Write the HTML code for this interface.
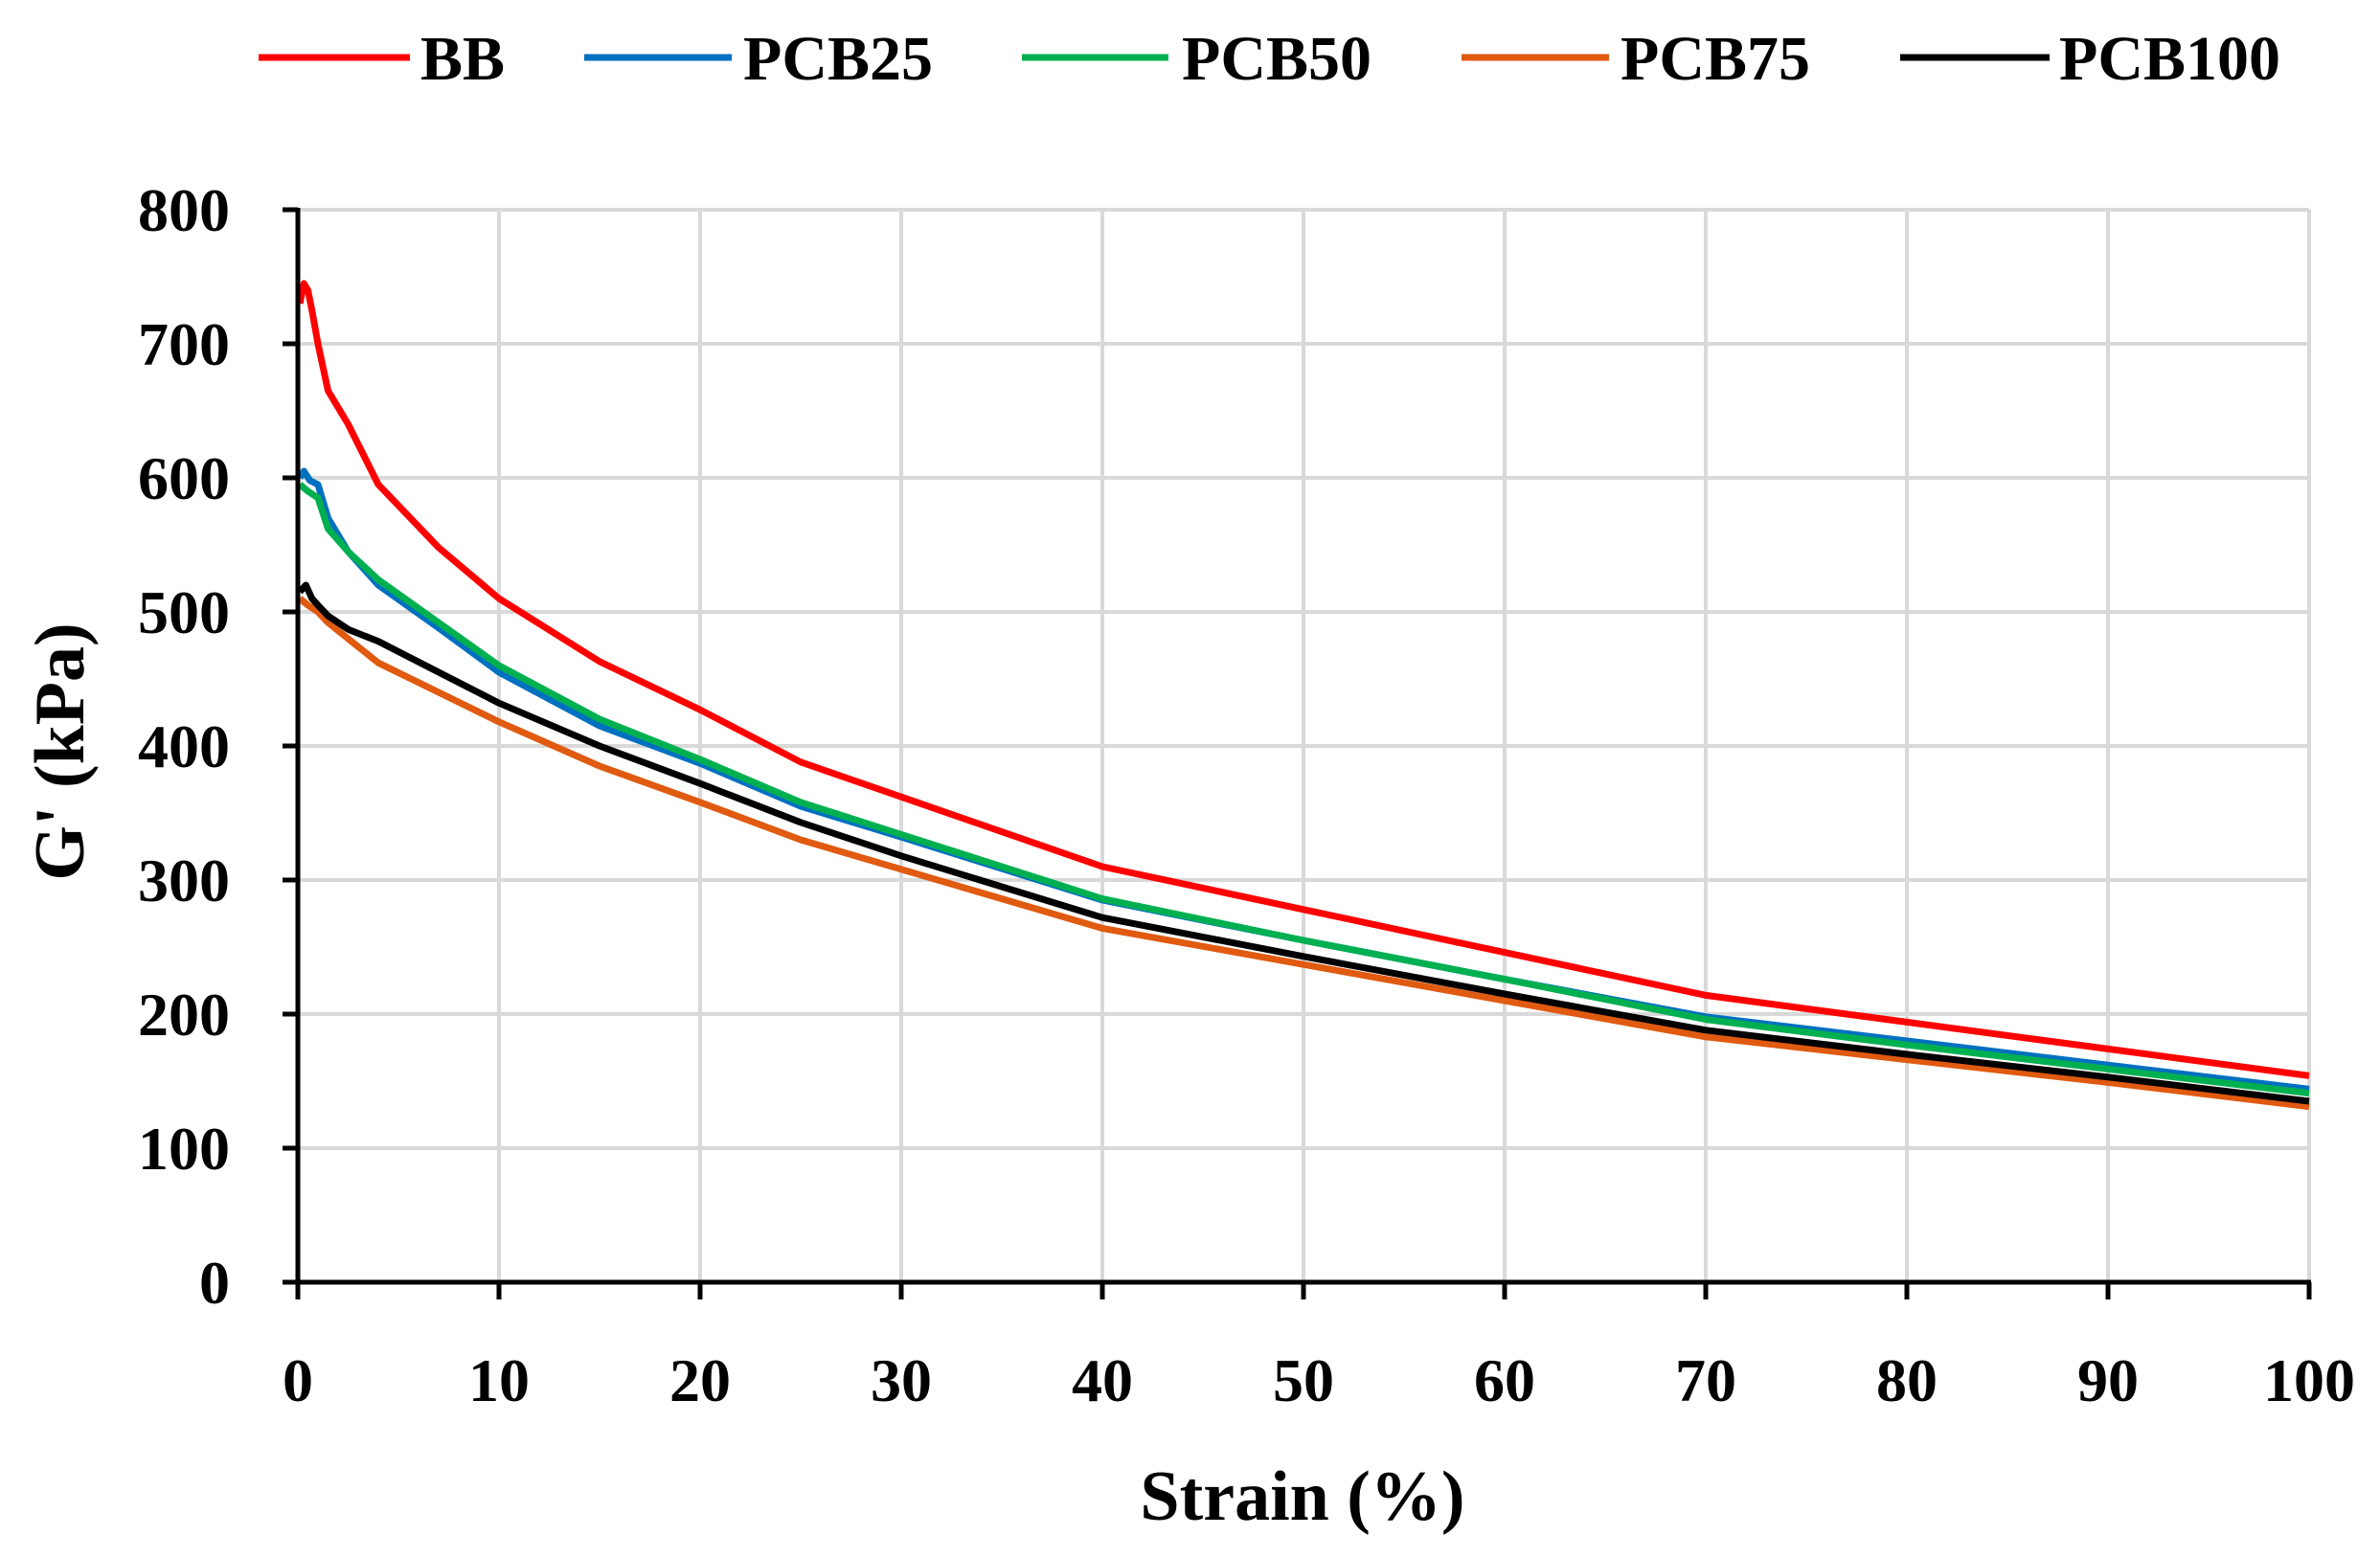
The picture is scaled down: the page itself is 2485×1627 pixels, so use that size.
<!DOCTYPE html>
<html><head><meta charset="utf-8"><style>
html,body{margin:0;padding:0;background:#fff;}
svg{display:block;}
text{font-family:"Liberation Serif",serif;font-weight:bold;fill:#000;}
</style></head><body>
<svg id="s" width="2485" height="1627" viewBox="0 0 2485 1627" xmlns="http://www.w3.org/2000/svg">
<g id="grid" stroke="#d9d9d9" stroke-width="4"></g>
<g id="series" fill="none" stroke-width="7" stroke-linejoin="round"></g>
<g id="axes" stroke="#000" stroke-width="5"></g>
<g id="labels" font-size="64"></g>
<text x="1360" y="1587" font-size="74" text-anchor="middle">Strain (%)</text>
<text transform="translate(87,785) rotate(-90)" font-size="74" text-anchor="middle">G' (kPa)</text>
<g font-size="66">
<line x1="270" y1="60" x2="428" y2="60" stroke="#ff0000" stroke-width="7"/><text x="439" y="83">BB</text>
<line x1="610" y1="60" x2="764" y2="60" stroke="#0070c0" stroke-width="7"/><text x="776" y="83">PCB25</text>
<line x1="1067" y1="60" x2="1220" y2="60" stroke="#00b050" stroke-width="7"/><text x="1234" y="83">PCB50</text>
<line x1="1526" y1="60" x2="1680" y2="60" stroke="#e05a10" stroke-width="7"/><text x="1692" y="83">PCB75</text>
<line x1="1984" y1="60" x2="2140" y2="60" stroke="#000" stroke-width="7"/><text x="2150" y="83">PCB100</text>
</g>
</svg>
<script>
var NS="http://www.w3.org/2000/svg";
function X(v){return 311+v*21;}function Y(v){return 1339-v*1.4;}
function el(p,t,a,txt){var e=document.createElementNS(NS,t);for(var k in a)e.setAttribute(k,a[k]);if(txt!==undefined)e.textContent=txt;document.getElementById(p).appendChild(e);}
for(var i=1;i<=10;i++)el("grid","line",{x1:X(i*10),y1:Y(0),x2:X(i*10),y2:Y(800)});
for(var j=1;j<=8;j++)el("grid","line",{x1:X(0),y1:Y(j*100),x2:X(100),y2:Y(j*100)});
el("axes","line",{x1:X(0),y1:Y(800)-2,x2:X(0),y2:Y(0)+2});
el("axes","line",{x1:X(0)-2,y1:Y(0),x2:X(100)+2,y2:Y(0)});
for(var j=0;j<=8;j++){el("axes","line",{x1:X(0)-16,y1:Y(j*100),x2:X(0),y2:Y(j*100)});el("labels","text",{x:240,y:Y(j*100)+22,"text-anchor":"end"},String(j*100));}
for(var i=0;i<=10;i++){el("axes","line",{x1:X(i*10),y1:Y(0),x2:X(i*10),y2:Y(0)+18});el("labels","text",{x:X(i*10),y:1463,"text-anchor":"middle"},String(i*10));}
var D={
"#e05a10":[[0.1,510],[0.5,505],[1,500],[1.5,492],[2.5,480],[4,462],[7,440],[10,418],[15,385],[20,358],[25,330],[30,308],[40,264],[50,237],[60,210],[70,183],[80,166],[90,149],[100,131]],
"#000000":[[0.1,515],[0.4,520],[0.7,510],[1,505],[1.5,497],[2.5,487],[4,478],[7,455],[10,432],[15,400],[20,372],[25,343],[30,318],[40,272],[50,243],[60,215],[70,188],[80,170],[90,153],[100,135]],
"#0070c0":[[0.1,600],[0.3,605],[0.6,598],[1,595],[1.5,570],[2.5,545],[4,520],[7,488],[10,455],[15,415],[20,387],[25,355],[30,332],[40,285],[50,255],[60,226],[70,198],[80,180],[90,162],[100,144]],
"#00b050":[[0.1,595],[0.5,590],[1,585],[1.5,562],[2.5,545],[4,524],[7,492],[10,460],[15,420],[20,390],[25,358],[30,334],[40,286],[50,255],[60,226],[70,196],[80,177],[90,159],[100,141]],
"#ff0000":[[0.1,730],[0.3,745],[0.5,740],[0.7,725],[1,700],[1.5,665],[2.5,640],[4,595],[7,548],[10,510],[15,463],[20,427],[25,388],[30,362],[40,310],[50,278],[60,246],[70,214],[80,194],[90,174],[100,154]]};
for(var c in D){el("series","polyline",{stroke:c,points:D[c].map(function(p){return X(p[0])+","+Y(p[1]);}).join(" ")});}
</script>
</body></html>
